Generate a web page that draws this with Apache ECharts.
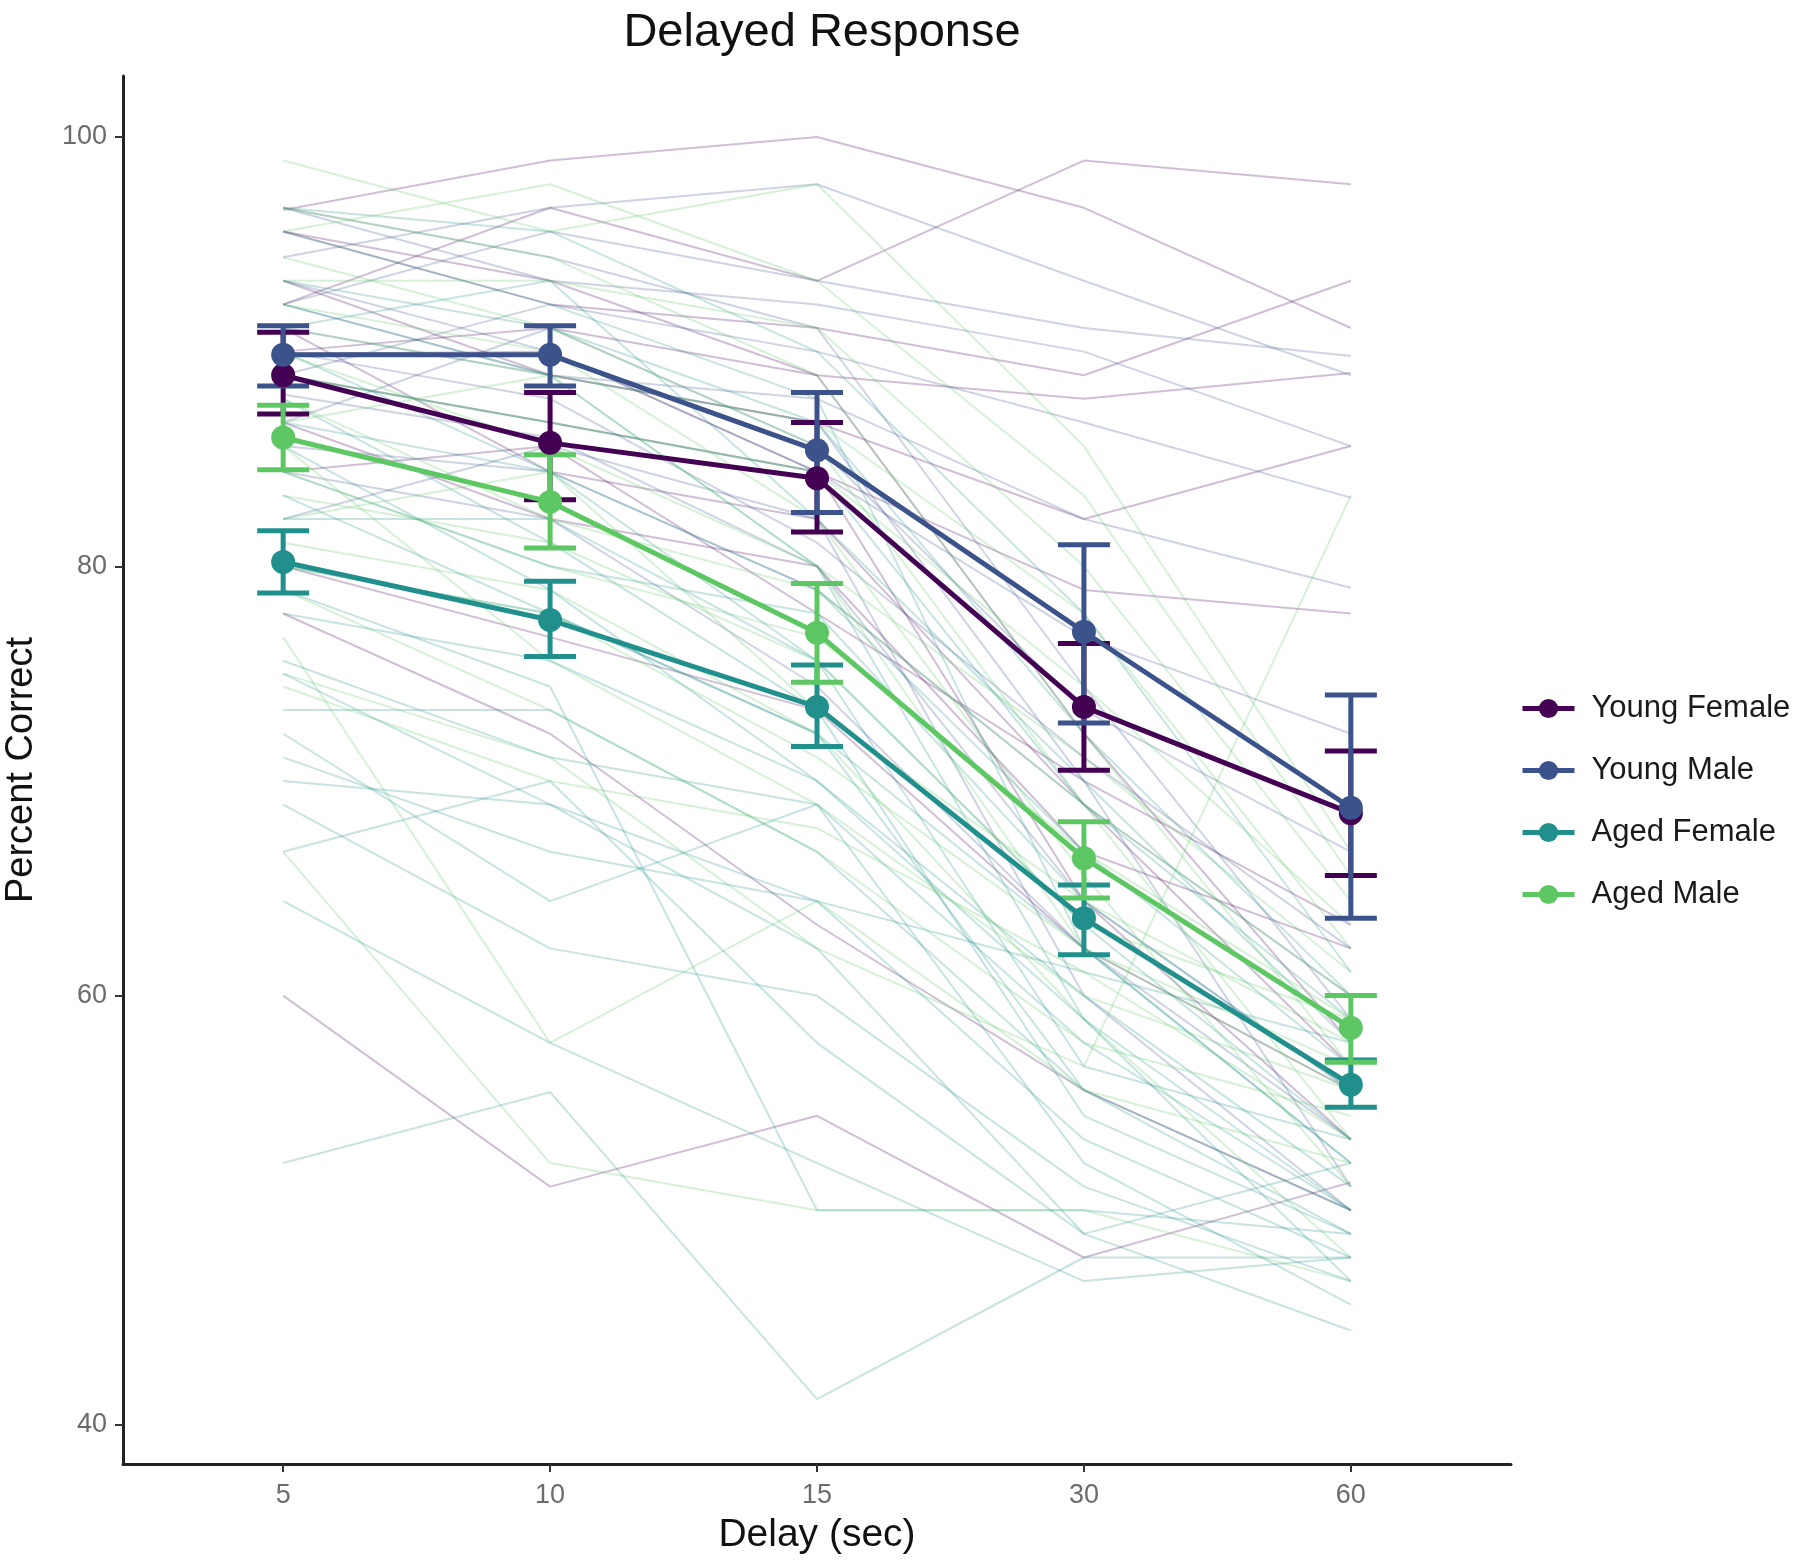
<!DOCTYPE html>
<html>
<head>
<meta charset="utf-8">
<script src="https://cdn.jsdelivr.net/npm/echarts@6/dist/echarts.min.js"></script>
<style>html,body{margin:0;padding:0;background:#fff}#c{width:1800px;height:1567px}</style>
</head>
<body>
<div id="c"></div>
<script>
// ---- data ----
const delays = ['5', '10', '15', '30', '60'];
const groupNames = ['Young Female', 'Young Male', 'Aged Female', 'Aged Male'];
const groupColors = ['#440154', '#3B528B', '#21908C', '#5DC863'];
const yTicks = [40, 60, 80, 100];

const meanYF = [88.9, 85.75, 84.1, 73.45, 68.5];
const hiYF   = [90.9, 88.1, 86.7, 76.4, 71.4];
const loYF   = [87.1, 83.1, 81.6, 70.5, 65.6];

const meanYM = [89.85, 89.85, 85.4, 76.95, 68.75];
const hiYM   = [91.2, 91.2, 88.1, 81.0, 74.0];
const loYM   = [88.4, 88.4, 82.5, 72.7, 63.6];

const meanAF = [80.2, 77.5, 73.45, 63.6, 55.85];
const hiAF   = [81.65, 79.3, 75.4, 65.15, 57.0];
const loAF   = [78.75, 75.8, 71.6, 61.9, 54.8];

const meanAM = [86.0, 83.0, 76.9, 66.4, 58.5];
const hiAM   = [87.5, 85.2, 79.2, 68.1, 60.0];
const loAM   = [84.5, 80.85, 74.6, 64.55, 56.9];

// individual subjects (percent correct at each delay)
const subjYF = [
  [96.6, 98.9, 100.0, 96.7, 91.1],
  [92.2, 96.7, 93.3, 98.9, 97.8],
  [95.6, 92.2, 91.1, 88.9, 93.3],
  [90.0, 91.1, 88.9, 87.8, 89.0],
  [93.3, 88.9, 86.7, 82.2, 85.6],
  [88.9, 86.7, 84.4, 78.9, 77.8],
  [86.7, 82.2, 80.0, 66.7, 62.2],
  [84.4, 85.6, 77.8, 70.0, 63.3],
  [91.1, 84.4, 82.2, 68.9, 56.7],
  [80.0, 76.7, 73.3, 62.2, 55.6],
  [60.0, 51.1, 54.4, 47.8, 51.3],
  [77.8, 72.2, 63.3, 55.6, 50.0],
  [95.6, 93.3, 88.9, 72.2, 57.8],
  [89.9, 90.0, 84.4, 64.4, 53.3]
];
const subjYM = [
  [94.4, 96.7, 97.8, 93.3, 88.9],
  [92.2, 95.6, 93.3, 91.1, 89.8],
  [96.7, 93.3, 92.2, 90.0, 85.6],
  [88.9, 92.2, 90.0, 86.7, 83.2],
  [91.1, 88.9, 87.8, 82.2, 79.0],
  [93.3, 90.0, 84.4, 76.7, 72.2],
  [86.7, 91.1, 85.6, 73.3, 66.7],
  [90.0, 87.8, 81.1, 71.1, 62.2],
  [85.6, 84.4, 78.9, 68.9, 60.0],
  [88.0, 86.0, 80.0, 64.4, 55.6],
  [84.4, 82.2, 74.4, 62.2, 53.3],
  [96.7, 94.4, 91.1, 74.4, 58.9],
  [92.2, 88.9, 86.7, 70.0, 51.1],
  [82.2, 85.6, 82.2, 60.0, 50.0]
];
const subjAF = [
  [96.7, 95.6, 90.0, 77.8, 61.1],
  [93.3, 91.1, 86.7, 72.2, 60.0],
  [91.1, 93.3, 82.2, 70.0, 57.8],
  [88.9, 86.7, 84.4, 68.9, 58.9],
  [86.7, 84.4, 78.9, 66.7, 56.7],
  [84.4, 80.0, 77.8, 64.4, 55.6],
  [82.2, 82.2, 75.6, 63.3, 53.3],
  [80.0, 77.8, 72.2, 62.2, 52.2],
  [77.8, 75.6, 70.0, 60.0, 51.1],
  [75.6, 71.1, 68.9, 57.8, 50.0],
  [73.3, 73.3, 66.7, 55.6, 48.9],
  [71.1, 66.7, 64.4, 53.3, 47.8],
  [68.9, 62.2, 60.0, 51.1, 46.7],
  [66.7, 70.0, 57.8, 48.9, 44.4],
  [64.4, 57.8, 52.2, 46.7, 47.8],
  [52.2, 55.5, 41.2, 47.8, 47.8],
  [78.9, 74.4, 50.0, 50.0, 48.9],
  [83.3, 77.8, 72.2, 55.6, 50.0],
  [75.0, 68.9, 64.4, 61.1, 57.8],
  [95.6, 92.2, 87.8, 62.2, 52.2],
  [92.2, 88.9, 80.0, 58.9, 50.0],
  [90.0, 84.4, 75.6, 56.7, 53.3],
  [87.8, 81.1, 73.3, 54.4, 48.9],
  [85.6, 78.9, 70.0, 58.9, 46.7],
  [72.2, 64.4, 68.9, 52.2, 45.6],
  [70.0, 68.9, 62.2, 48.9, 52.2]
];
const subjAM = [
  [98.9, 95.6, 97.8, 85.6, 66.7],
  [95.6, 97.8, 93.3, 83.3, 65.6],
  [93.3, 93.3, 91.1, 80.0, 64.4],
  [91.1, 88.9, 86.7, 77.8, 62.2],
  [88.9, 86.7, 84.4, 74.4, 63.3],
  [86.7, 88.9, 80.0, 71.1, 61.1],
  [87.8, 82.2, 78.9, 68.9, 60.0],
  [84.4, 80.0, 76.7, 66.7, 58.9],
  [82.2, 84.4, 73.3, 64.4, 57.8],
  [80.0, 77.8, 71.1, 62.2, 56.7],
  [85.6, 75.6, 68.9, 60.0, 55.6],
  [78.9, 73.3, 66.7, 57.8, 54.4],
  [76.7, 57.8, 64.4, 55.6, 52.2],
  [75.0, 71.1, 62.2, 56.7, 83.3],
  [66.7, 52.2, 50.0, 50.0, 46.7],
  [96.7, 94.4, 88.9, 72.2, 56.7],
  [94.4, 91.1, 85.6, 68.9, 53.3],
  [92.2, 90.0, 82.2, 65.6, 51.1],
  [89.9, 85.6, 80.0, 62.2, 55.6],
  [83.3, 81.1, 75.6, 63.3, 58.9],
  [81.1, 78.9, 72.2, 58.9, 47.8],
  [74.4, 70.0, 67.8, 61.1, 53.3]
];

// ---- build ----
const FONT = "'Liberation Sans', Arial, Helvetica, sans-serif";
const idx = delays.map((d, i) => i);
const toPts = arr => arr.map((v, i) => [i, v]);
const series = [];

const subjGroups = [subjYF, subjYM, subjAF, subjAM];
subjGroups.forEach((g, gi) => {
  g.forEach(s => {
    series.push({
      type: 'line', silent: true, symbol: 'none', z: 1,
      data: toPts(s),
      lineStyle: { color: groupColors[gi], width: 2, opacity: 0.25 },
      animation: false
    });
  });
});

const means = [meanYF, meanYM, meanAF, meanAM];
const his = [hiYF, hiYM, hiAF, hiAM];
const los = [loYF, loYM, loAF, loAM];

means.forEach((m, gi) => {
  series.push({
    type: 'custom', z: 5, silent: true, animation: false,
    data: m.map((v, i) => [i, his[gi][i], los[gi][i]]),
    renderItem: function (params, api) {
      const x = api.value(0);
      const a = api.coord([x, api.value(1)]);
      const b = api.coord([x, api.value(2)]);
      const hw = 26;
      const st = { stroke: groupColors[gi], lineWidth: 5 };
      return {
        type: 'group',
        children: [
          { type: 'line', shape: { x1: a[0], y1: a[1], x2: b[0], y2: b[1] }, style: st },
          { type: 'line', shape: { x1: a[0] - hw, y1: a[1], x2: a[0] + hw, y2: a[1] }, style: st },
          { type: 'line', shape: { x1: b[0] - hw, y1: b[1], x2: b[0] + hw, y2: b[1] }, style: st }
        ]
      };
    }
  });
});

means.forEach((m, gi) => {
  series.push({
    name: groupNames[gi],
    type: 'line', z: 10, animation: false,
    data: toPts(m),
    symbol: 'circle', symbolSize: 24,
    itemStyle: { color: groupColors[gi] },
    lineStyle: { color: groupColors[gi], width: 5 }
  });
});

const chart = echarts.init(document.getElementById('c'), null, { renderer: 'canvas' });
chart.setOption({
  backgroundColor: '#ffffff',
  animation: false,
  title: {
    text: 'Delayed Response',
    left: 817, top: 5, textAlign: 'center',
    textStyle: { fontFamily: FONT, fontSize: 47, fontWeight: 'normal', color: '#111' }
  },
  legend: {
    data: groupNames,
    orient: 'vertical',
    left: 1515, top: 688,
    itemWidth: 52, itemHeight: 24, itemGap: 31,
    lineStyle: { width: 5 },
    textStyle: { fontFamily: FONT, fontSize: 31, color: '#1a1a1a', padding: [0, 0, 0, 12] }
  },
  grid: { left: 123, right: 289, top: 76, bottom: 103, containLabel: false, outerBoundsMode: 'none' },
  xAxis: {
    type: 'value', min: -0.6, max: 4.6,
    name: 'Delay (sec)', nameLocation: 'middle', nameGap: 52,
    nameTextStyle: { fontFamily: FONT, fontSize: 39, color: '#111' },
    axisLine: { show: true, onZero: false, lineStyle: { color: '#222', width: 3 } },
    axisTick: { show: true, length: 8, customValues: idx, lineStyle: { color: '#333', width: 2 } },
    axisLabel: { customValues: idx, formatter: v => delays[Math.round(v)], margin: 18,
      fontFamily: FONT, fontSize: 27, color: '#6b6b6b' },
    splitLine: { show: false }
  },
  yAxis: {
    type: 'value', min: 38.18, max: 102.84,
    name: 'Percent Correct', nameLocation: 'middle', nameGap: 82, nameRotate: 90,
    nameTextStyle: { fontFamily: FONT, fontSize: 38, color: '#111' },
    axisLine: { show: true, onZero: false, lineStyle: { color: '#222', width: 3 } },
    axisTick: { show: true, length: 8, customValues: yTicks, lineStyle: { color: '#333', width: 2 } },
    axisLabel: { customValues: yTicks, margin: 16, fontFamily: FONT, fontSize: 27, color: '#6b6b6b' },
    splitLine: { show: false }
  },
  series: series
});
</script>
</body>
</html>
